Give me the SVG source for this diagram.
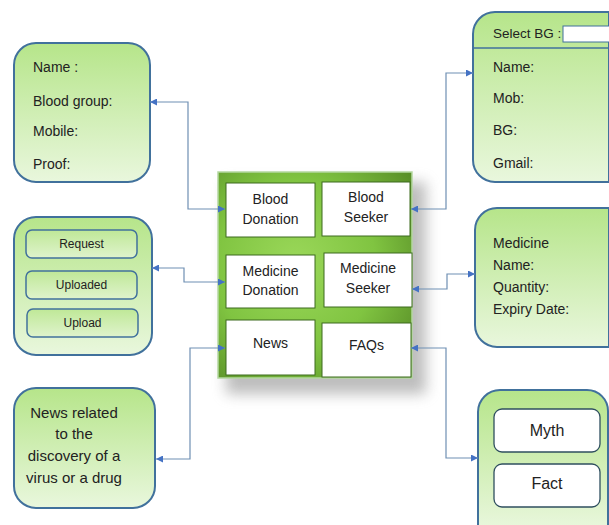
<svg xmlns="http://www.w3.org/2000/svg" width="609" height="525" viewBox="0 0 609 525">
<style>
.box{stroke:#41719c;stroke-width:2;fill:url(#lg)}
.inner{stroke:#41719c;stroke-width:1.5;fill:url(#lg2)}
.wbox{fill:#fff;stroke:#3d6b1f;stroke-width:1}
.wbox2{fill:#fff;stroke:#2f4f5f;stroke-width:1.3}
.t{font-family:"Liberation Sans",Arial,sans-serif;font-size:14px;fill:#222}
.c{text-anchor:middle}
.con{fill:none;stroke:#6f8fb3;stroke-width:1.2}
</style>
<defs>
<linearGradient id="lg" x1="0" y1="0" x2="0" y2="1">
<stop offset="0" stop-color="#b6e58a"/>
<stop offset="1" stop-color="#e9f7dd"/>
</linearGradient>
<linearGradient id="lg2" x1="0" y1="0" x2="0" y2="1">
<stop offset="0" stop-color="#bfe897"/>
<stop offset="1" stop-color="#dff3cc"/>
</linearGradient>
<radialGradient id="gg" cx="0.4" cy="0.45" r="0.75">
<stop offset="0" stop-color="#9bd85a"/>
<stop offset="0.55" stop-color="#80c441"/>
<stop offset="1" stop-color="#578c26"/>
</radialGradient>
<filter id="sh" x="-20%" y="-20%" width="150%" height="150%">
<feGaussianBlur stdDeviation="7"/>
</filter>
<marker id="ah" viewBox="0 0 10 10" refX="10" refY="5" markerWidth="7" markerHeight="7" orient="auto-start-reverse" markerUnits="userSpaceOnUse">
<path d="M0,0 L10,5 L0,10 z" fill="#4472c4"/>
</marker>
</defs>
<rect width="609" height="525" fill="#fff"/>

<g id="donor-form">
<rect class="box" x="14" y="43" width="136" height="139" rx="22"/>
<text class="t" x="33" y="72">Name :</text>
<text class="t" x="33" y="106">Blood group:</text>
<text class="t" x="33" y="136">Mobile:</text>
<text class="t" x="33" y="169">Proof:</text>
</g>

<g id="medicine-panel">
<rect class="box" x="14" y="217" width="138" height="138" rx="22"/>
<rect class="inner" x="26" y="230" width="111" height="28" rx="6"/>
<text class="t c" x="81.5" y="248" style="font-size:12px">Request</text>
<rect class="inner" x="26" y="271" width="111" height="28" rx="6"/>
<text class="t c" x="81.5" y="289" style="font-size:12px">Uploaded</text>
<rect class="inner" x="27" y="309" width="111" height="28" rx="6"/>
<text class="t c" x="82.5" y="327" style="font-size:12px">Upload</text>
</g>

<g id="news-info">
<rect class="box" x="14" y="388" width="141" height="120" rx="22"/>
<text class="t c" x="74" y="418" style="font-size:15px">News related</text>
<text class="t c" x="74" y="439" style="font-size:15px">to the</text>
<text class="t c" x="74" y="461" style="font-size:15px">discovery of a</text>
<text class="t c" x="74" y="483" style="font-size:15px">virus or a drug</text>
</g>

<g id="main-menu">
<rect x="226" y="182" width="200" height="212" fill="#888" opacity="0.55" filter="url(#sh)"/>
<rect x="218" y="172" width="194" height="206" fill="url(#gg)" stroke="#b4d8a0" stroke-width="1.5"/>
<rect class="wbox" x="226" y="183" width="89" height="54"/>
<text class="t c" x="270.5" y="204">Blood</text>
<text class="t c" x="270.5" y="224">Donation</text>
<rect class="wbox" x="322" y="182" width="88" height="54"/>
<text class="t c" x="366" y="202">Blood</text>
<text class="t c" x="366" y="222">Seeker</text>
<rect class="wbox" x="226" y="255" width="89" height="53"/>
<text class="t c" x="270.5" y="276">Medicine</text>
<text class="t c" x="270.5" y="295">Donation</text>
<rect class="wbox" x="324" y="253" width="88" height="54"/>
<text class="t c" x="368" y="273">Medicine</text>
<text class="t c" x="368" y="293">Seeker</text>
<rect class="wbox" x="226" y="320" width="89" height="55"/>
<text class="t c" x="270.5" y="348">News</text>
<rect class="wbox" x="322" y="323" width="89" height="54"/>
<text class="t c" x="366.5" y="350">FAQs</text>
</g>

<g id="seeker-form">
<path class="box" d="M495,12 H609 V182 H495 A22,22 0 0 1 473,160 V34 A22,22 0 0 1 495,12 Z"/>
<line x1="473" y1="48" x2="609" y2="48" stroke="#41719c" stroke-width="1.5"/>
<text class="t" x="493" y="38" style="font-size:13.5px">Select BG :</text>
<rect x="563" y="26" width="48" height="16" fill="#fff" stroke="#41719c" stroke-width="1"/>
<text class="t" x="493" y="72">Name:</text>
<text class="t" x="493" y="103">Mob:</text>
<text class="t" x="493" y="135">BG:</text>
<text class="t" x="493" y="168">Gmail:</text>
</g>

<g id="medicine-form">
<path class="box" d="M497,208 H609 V347 H497 A22,22 0 0 1 475,325 V230 A22,22 0 0 1 497,208 Z"/>
<text class="t" x="493" y="248">Medicine</text>
<text class="t" x="493" y="270">Name:</text>
<text class="t" x="493" y="292">Quantity:</text>
<text class="t" x="493" y="314">Expiry Date:</text>
</g>

<g id="faq-panel">
<path class="box" d="M500,390 H587 A21,21 0 0 1 608,411 V530 H478 V412 A22,22 0 0 1 500,390 Z"/>
<rect class="wbox2" x="494" y="409" width="106" height="43" rx="8"/>
<text class="t c" x="547" y="436" style="font-size:16px">Myth</text>
<rect class="wbox2" x="494" y="464" width="106" height="43" rx="8"/>
<text class="t c" x="547" y="489" style="font-size:16px">Fact</text>
</g>

<g id="connectors">
<polyline class="con" points="150,102 188,102 188,209 225,209" marker-start="url(#ah)" marker-end="url(#ah)"/>
<polyline class="con" points="152,268 184,268 184,282 225,282" marker-start="url(#ah)" marker-end="url(#ah)"/>
<polyline class="con" points="156,459 190,459 190,348 225,348" marker-start="url(#ah)" marker-end="url(#ah)"/>
<polyline class="con" points="411,209 446,209 446,73 473,73" marker-start="url(#ah)" marker-end="url(#ah)"/>
<polyline class="con" points="412,289 447,289 447,274 475,274" marker-start="url(#ah)" marker-end="url(#ah)"/>
<polyline class="con" points="411,348 446,348 446,458 478,458" marker-start="url(#ah)" marker-end="url(#ah)"/>
</g>
</svg>
